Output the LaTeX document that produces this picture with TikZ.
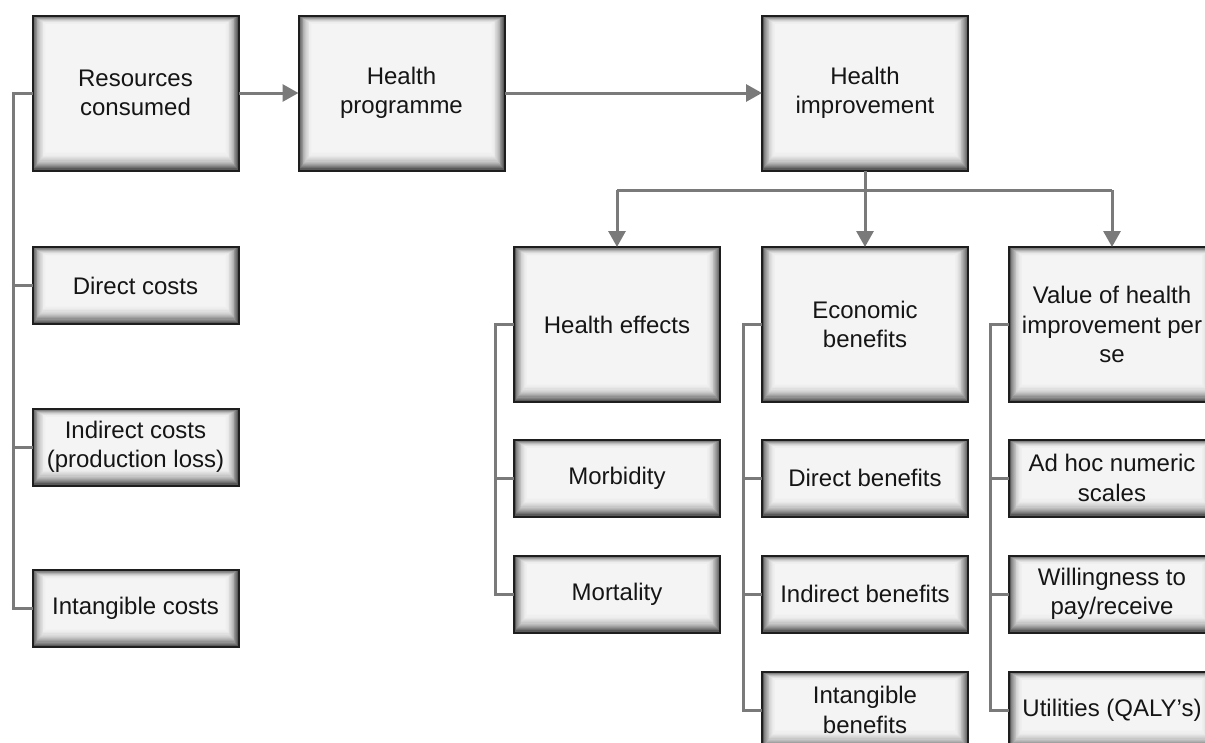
\documentclass[tikz,border=0pt]{standalone}
\usepackage{fontspec}
\setmainfont{Liberation Sans}
\usetikzlibrary{arrows.meta}
\definecolor{boxfill}{HTML}{F4F4F4}
\definecolor{edge}{HTML}{1E1E1E}
\definecolor{wire}{HTML}{7A7A7A}
\definecolor{ink}{HTML}{151515}

\begin{document}
\begin{tikzpicture}[x=1pt,y=-1pt,
  card/.style={draw=edge, line width=2pt, fill=boxfill, inner sep=0pt, outer sep=0pt,
    align=center, text=ink, font=\fontsize{24}{29.5}\selectfont, minimum width=206pt,
    path picture={
      % soft inner shadow: nested frames fading from dark to the fill colour
      \foreach \i in {0,...,17}{
        \pgfmathtruncatemacro\p{72*(1-\i/18)^2.3}
        \draw[line width=1.4pt, draw=black!\p!boxfill]
          ([xshift={\i*0.85pt+0.5pt}, yshift={\i*1.15pt+0.5pt}]path picture bounding box.south west)
          rectangle
          ([xshift={-\i*0.85pt-0.5pt}, yshift={-\i*0.55pt-0.5pt}]path picture bounding box.north east);
      }}},
  tall/.style={card, minimum height=155pt},
  flat/.style={card, minimum height=77pt},
  conn/.style={draw=wire, line width=3pt},
  arr/.style={conn, -{Triangle[length=16pt,width=17pt]}}
]
\useasboundingbox (0,0) rectangle (1205,742);
\clip (0,0) rectangle (1205,742);

% top row
\node[tall] (res) at (135.5,93) {Resources\\consumed};
\node[tall] (prog) at (401.5,93) {Health\\programme};
\node[tall] (impr) at (865,93) {Health\\improvement};

% cost items
\node[flat] (dcost) at (135.5,285.5) {Direct costs};
\node[flat] (icost) at (135.5,447) {Indirect costs\\(production loss)};
\node[flat] (tcost) at (135.5,608.5) {Intangible costs};

% second row
\node[tall] (heff) at (617,324.5) {Health effects};
\node[tall] (econ) at (865,324.5) {Economic\\benefits};
\node[tall] (valu) at (1112,324.5) {Value of health\\improvement per\\se};

% health effects items
\node[flat] (morb) at (617,478) {Morbidity};
\node[flat] (mort) at (617,594) {Mortality};

% economic benefit items
\node[flat] (dben) at (865,478) {Direct benefits};
\node[flat] (iben) at (865,594) {Indirect benefits};
\node[flat] (tben) at (865,710) {Intangible\\benefits};

% valuation items
\node[flat] (adhoc) at (1112,478) {Ad hoc numeric\\scales};
\node[flat] (wtp) at (1112,594) {Willingness to\\pay/receive};
\node[flat] (qaly) at (1112,710) {Utilities (QALY’s)};

% main flow
\draw[arr] (res.east) -- (prog.west);
\draw[arr] (prog.east) -- (impr.west);

% branching from health improvement
\coordinate (split) at (865,190);
\draw[conn] (impr.south) -- (split);
\draw[conn] (split -| heff.north) -- (split -| valu.north);
\draw[arr] (split -| heff.north) -- (heff.north);
\draw[arr] (split) -- (econ.north);
\draw[arr] (split -| valu.north) -- (valu.north);

% trunk lines on the left of each column
\coordinate (tcol) at (13,0);
\coordinate (thea) at (495,0);
\coordinate (teco) at (743,0);
\coordinate (tval) at (990,0);

\draw[conn] (res.west) -- (res.west -| tcol) |- (tcost.west);
\draw[conn] (dcost.west) -- (dcost.west -| tcol);
\draw[conn] (icost.west) -- (icost.west -| tcol);

\draw[conn] (heff.west) -- (heff.west -| thea) |- (mort.west);
\draw[conn] (morb.west) -- (morb.west -| thea);

\draw[conn] (econ.west) -- (econ.west -| teco) |- (tben.west);
\draw[conn] (dben.west) -- (dben.west -| teco);
\draw[conn] (iben.west) -- (iben.west -| teco);

\draw[conn] (valu.west) -- (valu.west -| tval) |- (qaly.west);
\draw[conn] (adhoc.west) -- (adhoc.west -| tval);
\draw[conn] (wtp.west) -- (wtp.west -| tval);
\end{tikzpicture}
\end{document}
